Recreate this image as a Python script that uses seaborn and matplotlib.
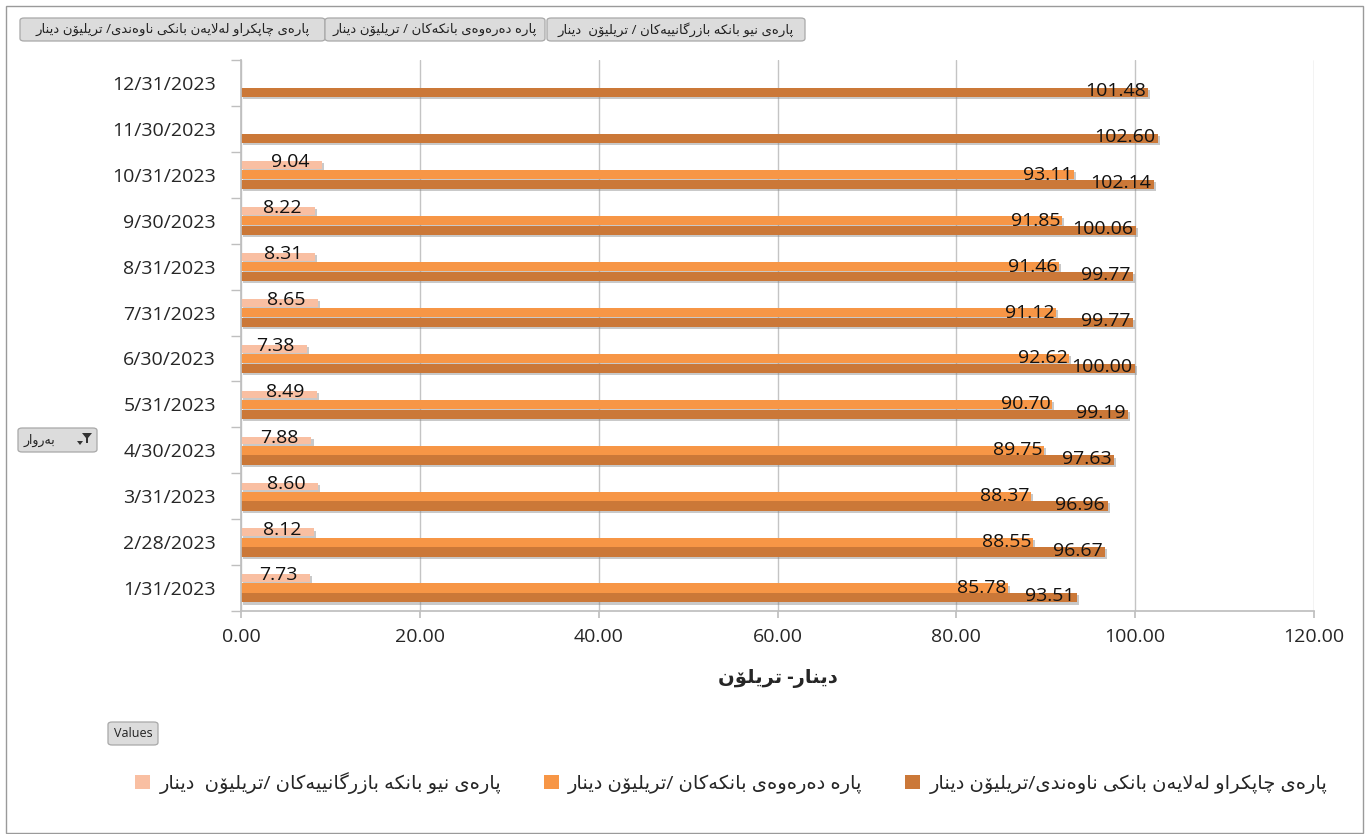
import numpy as np
import pandas as pd
import matplotlib
matplotlib.use("Agg")
import matplotlib.pyplot as plt
import matplotlib.patheffects as pe
from matplotlib.patches import FancyBboxPatch, Rectangle, Patch, Polygon
import seaborn as sns

# --- Data (Jan..Dec 2023, trillion dinar) ---
dates = ["1/31/2023", "2/28/2023", "3/31/2023", "4/30/2023", "5/31/2023", "6/30/2023",
         "7/31/2023", "8/31/2023", "9/30/2023", "10/31/2023", "11/30/2023", "12/31/2023"]
in_banks = [7.73, 8.12, 8.60, 7.88, 8.49, 7.38, 8.65, 8.31, 8.22, 9.04, np.nan, np.nan]
outside_banks = [85.78, 88.55, 88.37, 89.75, 90.70, 92.62, 91.12, 91.46, 91.85, 93.11, np.nan, np.nan]
printed_cbi = [93.51, 96.67, 96.96, 97.63, 99.19, 100.00, 99.77, 99.77, 100.06, 102.14, 102.60, 101.48]

series_names = [
    "پارەی نیو بانکە بازرگانییەکان /تریلیۆن  دینار",
    "پارە دەرەوەی بانکەکان /تریلیۆن دینار",
    "پارەی چاپکراو لەلایەن بانکی ناوەندی/تریلیۆن دینار",
]
button_names = [
    "پارەی چاپکراو لەلایەن بانکی ناوەندی/ تریلیۆن دینار",
    "پارە دەرەوەی بانکەکان / تریلیۆن دینار",
    "پارەی نیو بانکە بازرگانییەکان / تریلیۆن  دینار",
]
x_title = "دینار- تریلۆن"
filter_name = "بەروار"
colors = ["#F9BFA2", "#F79646", "#CB7838"]
x_ticks = [0, 20, 40, 60, 80, 100, 120]


# --- minimal Arabic-script shaping (matplotlib has no complex text layout) ---
FORMS = {  # isolated, final, initial, medial
    "ا": ("\uFE8D", "\uFE8E"), "د": ("\uFEA9", "\uFEAA"), "ر": ("\uFEAD", "\uFEAE"),
    "ز": ("\uFEAF", "\uFEB0"), "و": ("\uFEED", "\uFEEE"), "ۆ": ("\uFBD9", "\uFBDA"),
    "ە": ("\uFEE9", "\uFEEA"), "ژ": ("\uFB8A", "\uFB8B"),
    "ب": ("\uFE8F", "\uFE90", "\uFE91", "\uFE92"), "ت": ("\uFE95", "\uFE96", "\uFE97", "\uFE98"),
    "ل": ("\uFEDD", "\uFEDE", "\uFEDF", "\uFEE0"), "ن": ("\uFEE5", "\uFEE6", "\uFEE7", "\uFEE8"),
    "ه": ("\uFEE9", "\uFEEA", "\uFEEB", "\uFEEC"), "ی": ("\uFEEF", "\uFEF0", "\uFEF3", "\uFEF4"),
    "پ": ("\uFB56", "\uFB57", "\uFB58", "\uFB59"), "چ": ("\uFB7A", "\uFB7B", "\uFB7C", "\uFB7D"),
    "ک": ("\uFB8E", "\uFB8F", "\uFB90", "\uFB91"), "گ": ("\uFB92", "\uFB93", "\uFB94", "\uFB95"),
}


def rtl(text):
    chars = list(text)
    out = []
    i = 0
    while i < len(chars):
        ch = chars[i]
        prev = chars[i - 1] if i > 0 else ""
        nxt = chars[i + 1] if i + 1 < len(chars) else ""
        joins_prev = prev in FORMS and len(FORMS[prev]) == 4
        if ch == "ل" and nxt == "ا":
            out.append("\uFEFC" if joins_prev else "\uFEFB")
            i += 2
            continue
        if ch not in FORMS:
            out.append(ch)
            i += 1
            continue
        f = FORMS[ch]
        joins_next = len(f) == 4 and nxt in FORMS
        if joins_prev and joins_next:
            out.append(f[3])
        elif joins_prev:
            out.append(f[1])
        elif joins_next:
            out.append(f[2])
        else:
            out.append(f[0])
        i += 1
    return "".join(out[::-1])


sns.set_theme(style="white")
plt.rcParams["font.family"] = ["Open Sans", "DejaVu Sans"]

W, H = 1367, 834
fig = plt.figure(figsize=(W / 100, H / 100), dpi=100)
fig.patch.set_facecolor("white")
ax = fig.add_axes([241 / W, 1 - 611 / H, (1314 - 241) / W, (611 - 60) / H])

df = pd.DataFrame({
    "date": dates * 3,
    "value": in_banks + outside_banks + printed_cbi,
    "series": [series_names[0]] * 12 + [series_names[1]] * 12 + [series_names[2]] * 12,
}).dropna()

sns.barplot(data=df, x="value", y="date", hue="series", order=dates[::-1],
            hue_order=series_names, palette=colors, orient="h", width=0.64, gap=0.06,
            saturation=1, errorbar=None, linewidth=0, legend=False, ax=ax)

# thinner light bars
for p in ax.containers[0]:
    c = p.get_y() + p.get_height() / 2
    p.set_height(0.17)
    p.set_y(c - 0.085)

for p in ax.patches:
    p.set_path_effects([pe.SimplePatchShadow(offset=(1.5, -1.5), shadow_rgbFace="#888888", alpha=0.45),
                        pe.Normal()])

# data labels
offsets = [(-9, 2), (-1, 0), (-2, 1)]
for ci, cont in enumerate(ax.containers):
    for p in cont:
        w = p.get_width()
        if np.isnan(w):
            continue
        yc = p.get_y() + p.get_height() / 2
        ax.annotate(f"{w:.2f}", (w, yc), xytext=offsets[ci], textcoords="offset points",
                    ha="right", va="center", fontsize=14, color="#111111")

ax.set_xlim(0, 120)
ax.set_ylim(11.5, -0.5)
ax.set_xticks(x_ticks)
ax.set_xticklabels([f"{v:.2f}" for v in x_ticks], fontsize=14)
ax.set_yticks(range(12))
ax.set_yticklabels(dates[::-1], fontsize=14)
ax.set_yticks(np.arange(-0.5, 12, 1), minor=True)
ax.tick_params(axis="y", which="major", length=0, pad=18)
ax.tick_params(axis="y", which="minor", length=7, color="#bfbfbf", left=True)
ax.tick_params(axis="x", length=5, color="#bfbfbf", bottom=True, pad=7)
ax.grid(axis="x", color="#c4c4c4", lw=1)
ax.grid(axis="y", visible=False)
ax.set_axisbelow(True)
for s in ["top", "right"]:
    ax.spines[s].set_visible(False)
for s in ["left", "bottom"]:
    ax.spines[s].set_color("#bfbfbf")
ax.set_ylabel("")
ax.set_xlabel(rtl(x_title), fontsize=14, fontweight="bold", labelpad=16)

# legend
handles = [Patch(facecolor=c, edgecolor="none") for c in colors]
fig.legend(handles, [rtl(s) for s in series_names], loc="center", bbox_to_anchor=(0.535, 0.061),
           ncol=3, frameon=False, fontsize=14, handlelength=0.75, handleheight=0.75,
           handletextpad=0.5, columnspacing=2.2)


# pivot-chart field buttons
def px(x, y):
    return x / W, 1 - y / H


def button(x0, y0, x1, y1, text, fontsize=9.5, ha="center", tx=None):
    fx0, fy1 = px(x0, y1)
    fx1, fy0 = px(x1, y0)
    fig.add_artist(FancyBboxPatch((fx0, fy1), fx1 - fx0, fy0 - fy1,
                                  boxstyle="round,pad=0,rounding_size=0.003",
                                  transform=fig.transFigure, facecolor="#dcdcdc",
                                  edgecolor="#a8a8a8", lw=0.9))
    cx = (fx0 + fx1) / 2 if tx is None else px(tx, 0)[0]
    fig.text(cx, (fy0 + fy1) / 2, text, ha=ha, va="center", fontsize=fontsize, color="#222222")


button(20, 18, 325, 41, rtl(button_names[0]))
button(325, 18, 545, 41, rtl(button_names[1]))
button(547, 18, 805, 41, rtl(button_names[2]))
button(18, 428, 97, 452, rtl(filter_name), fontsize=9, ha="left", tx=24)
button(108, 722, 158, 745, "Values", fontsize=9)
fig.add_artist(Polygon([px(82, 433), px(92, 433), px(88, 438), px(88, 443), px(86, 443), px(86, 438)],
                       closed=True, transform=fig.transFigure, facecolor="#333333", edgecolor="none"))
fig.add_artist(Polygon([px(77, 441), px(83, 441), px(80, 445)], closed=True,
                       transform=fig.transFigure, facecolor="#333333", edgecolor="none"))

# outer frame
fig.add_artist(Rectangle(px(6, 833), (1363 - 6) / W, (833 - 6) / H, transform=fig.transFigure,
                         facecolor="none", edgecolor="#9a9a9a", lw=1))

fig.savefig("out.png", dpi=100)
